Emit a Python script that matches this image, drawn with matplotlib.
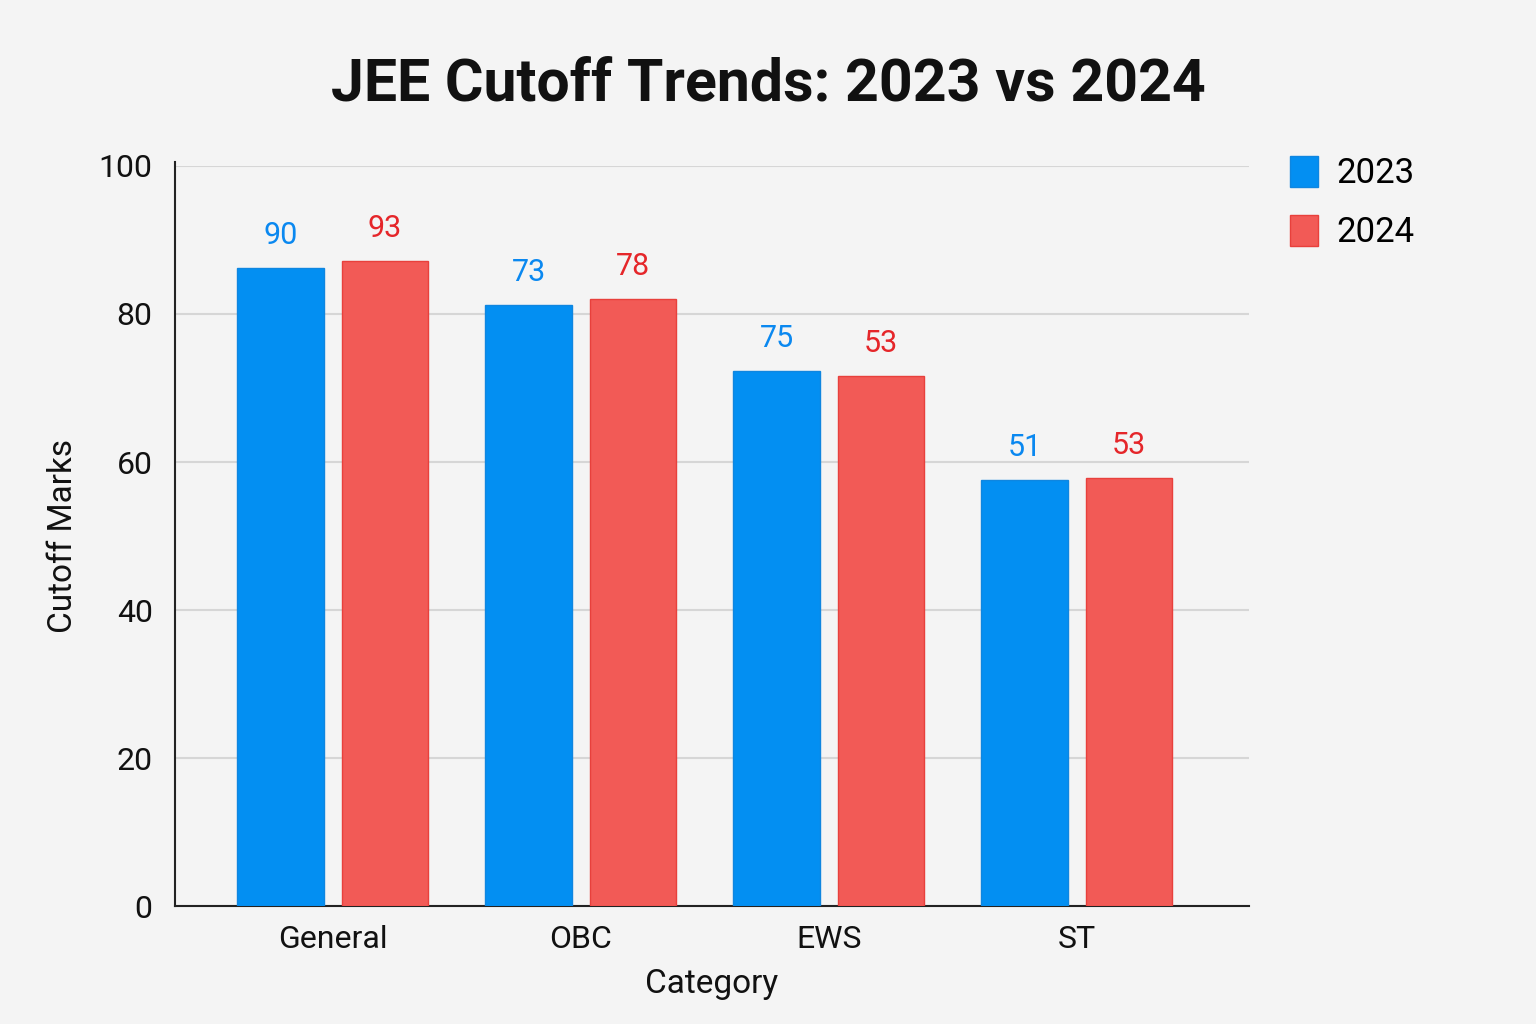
import numpy as np
import matplotlib
matplotlib.use("Agg")
import matplotlib.pyplot as plt

plt.rcParams['font.family'] = ['Roboto', 'DejaVu Sans']

categories = ['General', 'OBC', 'EWS', 'ST']
years = ['2023', '2024']
# bar heights as drawn
cutoff_2023 = [86.2, 81.2, 72.3, 57.6]
cutoff_2024 = [87.2, 82.0, 71.6, 57.8]
# numbers printed above the bars
labels_2023 = ['90', '73', '75', '51']
labels_2024 = ['93', '78', '53', '53']
y_ticks = [0, 20, 40, 60, 80, 100]

blue = '#038ff2'
red = '#f25a56'
blue_txt = '#0a88f0'
red_txt = '#e5262a'
bg = '#f4f4f4'

fig = plt.figure(figsize=(15.36, 10.24), dpi=100, facecolor=bg)
ax = fig.add_axes([0.1139, 0.1152, 0.6992, 0.7227])
ax.set_facecolor(bg)

x = np.arange(len(categories))
w = 0.35
off = 0.21
b1 = ax.bar(x - off, cutoff_2023, w, color=blue, edgecolor='#0f86e0',
            linewidth=1, label=years[0], zorder=3)
b2 = ax.bar(x + off, cutoff_2024, w, color=red, edgecolor='#e8403c',
            linewidth=1, label=years[1], zorder=3)

for bars, labs, col in [(b1, labels_2023, blue_txt), (b2, labels_2024, red_txt)]:
    for b, t in zip(bars, labs):
        ax.annotate(t, (b.get_x() + b.get_width() / 2, b.get_height()),
                    xytext=(0, 13), textcoords='offset points',
                    ha='center', va='bottom', fontsize=22, color=col)

ax.set_xlim(-0.637, 3.694)
ax.set_ylim(0, 100)
ax.set_yticks(y_ticks)
ax.set_xticks(x)
ax.set_xticklabels(categories)
ax.tick_params(axis='both', length=0, labelsize=23, colors='#111111')
ax.tick_params(axis='x', pad=14)
ax.tick_params(axis='y', pad=16)
ax.yaxis.grid(True, color='#d6d6d6', linewidth=1.5, zorder=0)
for s in ['top', 'right']:
    ax.spines[s].set_visible(False)
for s in ['left', 'bottom']:
    ax.spines[s].set_color('#222222')
    ax.spines[s].set_linewidth(1.5)
ax.spines['left'].set_bounds(0, 100.5)

ax.set_xlabel('Category', fontsize=24, labelpad=10, color='#111111')
ax.set_ylabel('Cutoff Marks', fontsize=24, labelpad=14, color='#111111')
fig.text(0.5, 0.917, 'JEE Cutoff Trends: 2023 vs 2024', ha='center', va='center',
         fontsize=42.5, fontweight='bold', color='#111111')

leg = ax.legend(loc='upper left', bbox_to_anchor=(1.009, 1.056), frameon=False,
                fontsize=25, handlelength=0.8, handleheight=1.0,
                handletextpad=0.55, labelspacing=0.7)

fig.savefig('out.png', dpi=100, facecolor=bg)
